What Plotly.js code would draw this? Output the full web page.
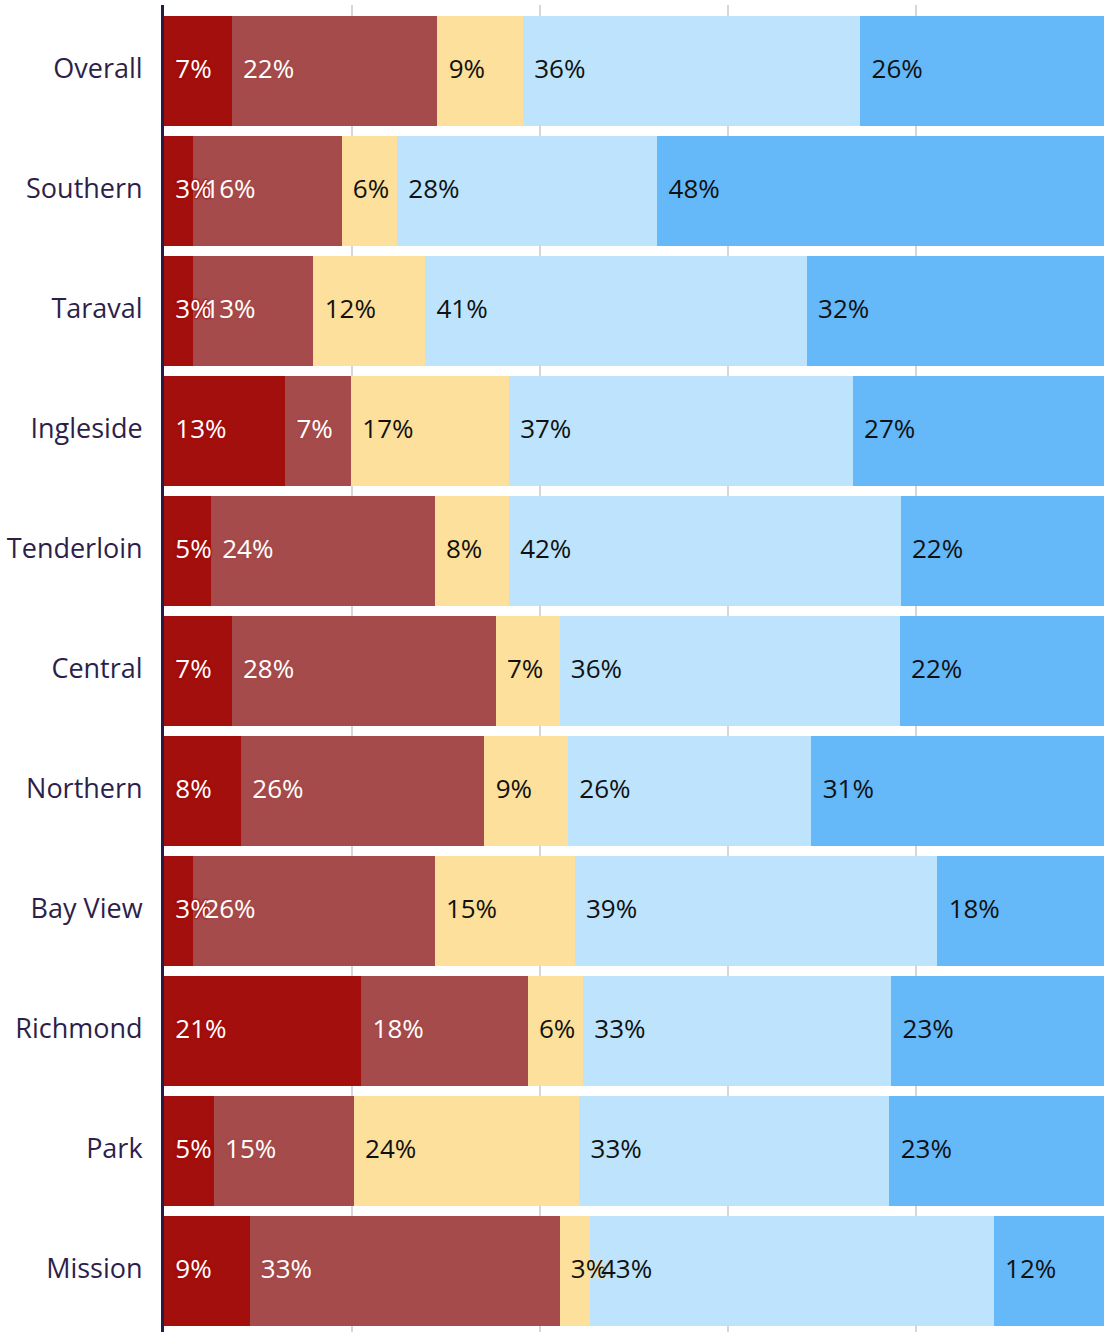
<!DOCTYPE html>
<html>
<head>
<meta charset="utf-8">
<script src="https://cdn.plot.ly/plotly-3.0.1.min.js"></script>
<style>html,body{margin:0;padding:0;background:#fff;}#chart{width:1119px;height:1332px;}</style>
</head>
<body>
<div id="chart"></div>
<script>
const categories = ["Overall","Southern","Taraval","Ingleside","Tenderloin","Central","Northern","Bay View","Richmond","Park","Mission"];
const seriesNames = ["Very dissatisfied","Dissatisfied","Neutral","Satisfied","Very satisfied"];
const s1 = [7.2, 3.1, 3.1, 12.9, 5.0, 7.2, 8.2, 3.1, 21.0, 5.3, 9.1];
const s2 = [21.9, 15.8, 12.8, 7.0, 23.8, 28.1, 25.9, 25.7, 17.7, 14.9, 33.0];
const s3 = [9.1, 5.9, 11.9, 16.8, 7.9, 6.8, 8.9, 14.9, 5.9, 24.0, 3.2];
const s4 = [35.9, 27.7, 40.6, 36.6, 41.7, 36.2, 25.9, 38.6, 32.8, 33.0, 43.0];
const s5 = [25.9, 47.5, 31.6, 26.7, 21.6, 21.7, 31.1, 17.7, 22.6, 22.8, 11.7];
const xTicks = [0, 20, 40, 60, 80, 100];

const colors = ["#a30f0c", "#a64b4b", "#fce09b", "#bde4fc", "#65b9f9"];
const textColors = ["#ffffff", "#ffffff", "#111111", "#111111", "#111111"];
const allSeries = [s1, s2, s3, s4, s5];
const FONT = "'Open Sans', Lato, sans-serif";

// bars
const barTraces = allSeries.map((vals, i) => ({
  type: "bar",
  orientation: "h",
  name: seriesNames[i],
  y: categories,
  x: vals,
  marker: {color: colors[i], line: {width: 0}},
  hoverinfo: "none",
  showlegend: false
}));

// value labels, drawn above all bars, anchored at each segment's start
const labelTraces = allSeries.map((vals, i) => {
  const starts = vals.map((v, k) => allSeries.slice(0, i).reduce((acc, s) => acc + s[k], 0));
  return {
    type: "scatter",
    mode: "text",
    y: categories,
    x: starts,
    customdata: vals,
    texttemplate: "\u2004\u200a%{customdata:.0f}%",
    textposition: "middle right",
    textfont: {
      family: FONT,
      size: 26,
      color: textColors[i],
      shadow: "0 0 2px " + colors[i] + ", 0 0 2px " + colors[i] + ", 0 0 3px " + colors[i]
    },
    hoverinfo: "none",
    showlegend: false,
    cliponaxis: false
  };
});

const layout = {
  width: 1119,
  height: 1332,
  barmode: "stack",
  bargap: 0.09,
  margin: {l: 163.5, r: 15, t: 5, b: 0, pad: 0},
  paper_bgcolor: "#ffffff",
  plot_bgcolor: "#ffffff",
  font: {family: FONT},
  xaxis: {
    range: [0, 100.03],
    tickvals: xTicks,
    showticklabels: false,
    showgrid: true,
    gridcolor: "#d6d5da",
    gridwidth: 2,
    zeroline: false,
    showline: false,
    fixedrange: true
  },
  yaxis: {
    type: "category",
    categoryorder: "array",
    categoryarray: categories,
    range: [10.508, -0.55],
    showgrid: false,
    zeroline: false,
    showline: true,
    linecolor: "#2b1a45",
    linewidth: 3,
    ticks: "outside",
    ticklen: 13,
    tickcolor: "rgba(0,0,0,0)",
    ticklabelshift: 2,
    tickfont: {family: FONT, size: 27, color: "#2e1f4a"},
    fixedrange: true
  }
};

Plotly.newPlot("chart", barTraces.concat(labelTraces), layout, {displayModeBar: false, staticPlot: true});
</script>
</body>
</html>
